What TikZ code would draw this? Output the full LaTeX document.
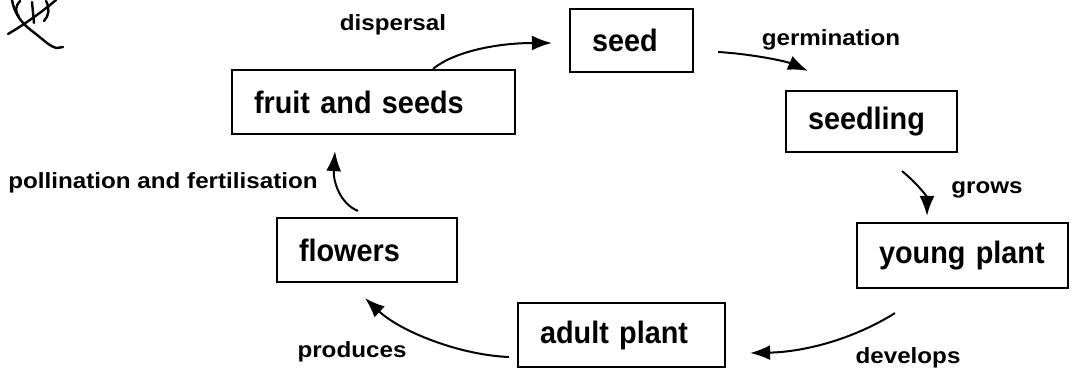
\documentclass[tikz,border=0pt]{standalone}
\usepackage{fontspec}
\setmainfont{Liberation Sans}
\newfontfamily\boxfont[FakeStretch=0.93]{Liberation Sans Bold}
\newfontfamily\labfont[FakeStretch=1.1]{Liberation Sans Bold}
\usetikzlibrary{arrows.meta,calc}
\tikzset{
  stagebox/.style={draw, line width=2.2pt, inner xsep=22pt, inner ysep=0pt, align=left,
    font=\boxfont\fontsize{31}{36}\selectfont},
  steplabel/.style={font=\labfont\fontsize{22}{26}\selectfont, inner sep=0pt},
  flow/.style={line width=2pt, -{Latex[length=20pt,width=15pt]}},
  scribble/.style={line width=2.4pt, line cap=round, line join=round}
}
\begin{document}
\begin{tikzpicture}[x=1pt,y=-1pt]
\useasboundingbox (0,0) rectangle (1072,372);
% stage boxes
\node[stagebox, text width=79pt, minimum height=63pt] (seed) at (631.5,40.5) {seed};
\node[stagebox, text width=239pt, minimum height=64pt] (fruit) at (373.5,102) {fruit and seeds};
\node[stagebox, text width=127pt, minimum height=61pt] (seedling) at (871.5,121.5) {seedling};
\node[stagebox, text width=167pt, minimum height=65pt] (young) at (962.5,255.5) {young plant};
\node[stagebox, text width=163pt, minimum height=64pt] (adult) at (621.5,335) {adult plant};
\node[stagebox, text width=136pt, minimum height=64pt] (flowers) at (367,250) {flowers};
% labels
\node[steplabel] (ldisp) at (393,25) {dispersal};
\node[steplabel] (lgerm) at (831,40) {germination};
\node[steplabel] (lgrow) at (987,190) {grows};
\node[steplabel] (ldev) at (908,358) {develops};
\node[steplabel] (lprod) at (352,352) {produces};
\node[steplabel] (lpoll) at (163,183) {pollination and fertilisation};
% connectors
\draw[flow] ($(fruit.north)+(59.5,0)$) .. controls +(22,-18) and +(-53,0) .. ($(seed.west)+(-17,2.5)$);
\draw[flow] ($(seed.east)+(24,11.5)$) .. controls +(33,2) and +(-23,-10) .. ($(seedling.north)+(-63.5,-19)$);
\draw[flow] ($(seedling.south)+(30.5,18)$) .. controls +(16,13) and +(0,-19) .. ($(young.north)+(-35.5,-6)$);
\draw[flow] ($(young.south)+(-67.5,24)$) .. controls +(-45,28) and +(51,-1) .. ($(adult.east)+(24,18)$);
\draw[flow] ($(adult.west)+(-8,22)$) .. controls +(-50,-2) and +(35,33) .. ($(flowers.south)+(-2,15)$);
\draw[flow] ($(flowers.north)+(-9,-6)$) .. controls +(-18,-7) and +(-2,30) .. ($(fruit.south)+(-38.5,16)$);
% handwritten mark top left
\draw[scribble] (12,0) .. controls (14,12) and (20,22) .. (32,31) .. controls (44,40) and (50,47) .. (57,48) -- (63,47);
\draw[scribble] (56,0) .. controls (42,12) and (22,26) .. (8,34);
\draw[scribble] (20,1) .. controls (15,6) and (15,12) .. (19,17);
\draw[scribble] (32,2) -- (34,23);
\draw[scribble] (46,1) .. controls (50,8) and (49,16) .. (44,21);
\end{tikzpicture}
\end{document}
